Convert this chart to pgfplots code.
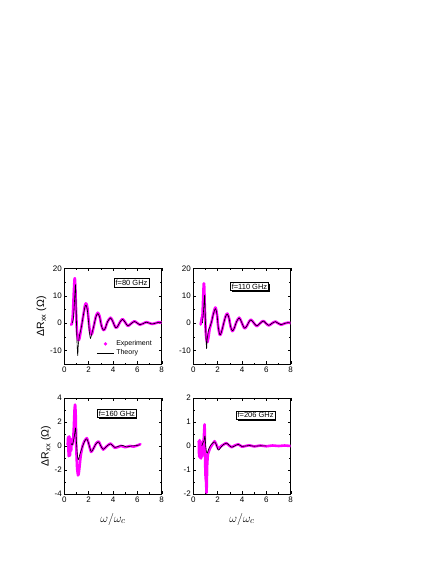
\documentclass[border=0pt]{standalone}
\usepackage{fontspec}
\setmainfont{Liberation Sans}
\usepackage{pgfplots}
\pgfplotsset{compat=1.18}
\usetikzlibrary{shadows}

\definecolor{expmag}{HTML}{FF00FF}

\tikzset{
  flabel/.style={draw=black, fill=white, line width=0.4pt, inner sep=1.3pt,
    font=\fontsize{7.5}{8}\selectfont,
    drop shadow={shadow xshift=1.2pt, shadow yshift=-1.2pt, fill=black, opacity=1}},
}
\pgfplotsset{
  panel/.style={
    scale only axis, width=97.4pt, height=96pt,
    xmin=0, xmax=8, xtick={0,2,4,6,8},
    minor x tick num=1, minor y tick num=1,
    tick align=inside, major tick length=3pt, minor tick length=1.6pt,
    axis line style={line width=0.5pt}, every tick/.style={black, line width=0.4pt},
    tick label style={font=\fontsize{8}{9}\selectfont},
    /pgf/number format/assume math mode=true,
    xticklabel style={yshift=1pt}, yticklabel style={xshift=1pt},
    clip=true,
  },
  expt/.style={expmag, line width=2.6pt, line join=round, line cap=round, smooth, tension=0.5, forget plot},
  theo/.style={black, line width=0.6pt, line join=round, smooth, tension=0.5, forget plot},
  ylab/.style={ylabel={ΔR\textsubscript{xx} (Ω)}, ylabel style={font=\fontsize{10.5}{11}\selectfont, yshift=-3pt}},
  xlab/.style={xlabel={$\omega/\omega_c$}, xlabel style={font=\fontsize{13}{14}\selectfont, yshift=-4pt}},
}

\begin{document}
\begin{tikzpicture}
\useasboundingbox (0,0) rectangle (436pt,564pt);

% f = 80 GHz
\begin{axis}[panel, ylab, at={(64.3pt,199.7pt)}, anchor=south west,
  ymin=-15, ymax=20, ytick={-10,0,10,20},
  legend style={draw=none, fill=none, at={(0.33,0.27)}, anchor=north west,
    font=\fontsize{7}{7.5}\selectfont, inner sep=0pt, row sep=-1.5pt},
  legend cell align=left]
\addplot[expt] coordinates {(0.55,-0.6)(0.62,-0.3)(0.7,3)(0.78,11)(0.85,16.3)(0.9,14)(0.97,4)(1.05,-3.5)(1.15,-6.2)(1.25,-5.5)(1.4,-1.5)(1.55,2.5)(1.7,6.5)(1.8,7.2)(1.9,5.5)(2.0,1)(2.1,-3)(2.2,-4.2)(2.3,-3.5)(2.45,-0.5)(2.6,2.5)(2.75,3.8)(2.9,2.5)(3.05,-0.8)(3.2,-2.5)(3.35,-2)(3.55,0.5)(3.8,2)(4.0,0.5)(4.2,-1.6)(4.35,-1.5)(4.55,0.2)(4.78,1.5)(5.0,0.3)(5.22,-1)(5.45,-0.3)(5.75,0.7)(6.0,0)(6.2,-0.6)(6.45,-0.2)(6.75,0.4)(7.0,0)(7.2,-0.3)(7.5,0)(7.75,0.35)(7.9,0.2)(8.0,0.3)};
\addplot[theo] coordinates {(0.65,0)(0.75,2)(0.85,9)(0.92,14)(0.97,6)(1.03,-5)(1.1,-11.8)(1.15,-8)(1.25,-4.5)(1.4,-1.5)(1.55,2.5)(1.7,6)(1.8,6.5)(1.9,4.5)(2.0,0)(2.08,-4)(2.15,-5.6)(2.25,-4)(2.45,-0.5)(2.6,2.3)(2.75,3.5)(2.9,2.2)(3.05,-1)(3.2,-2.5)(3.35,-2)(3.55,0.5)(3.8,1.9)(4.0,0.4)(4.2,-1.6)(4.35,-1.4)(4.55,0.2)(4.78,1.4)(5.0,0.3)(5.22,-1)(5.45,-0.3)(5.75,0.6)(6.0,0)(6.2,-0.6)(6.45,-0.2)(6.75,0.35)(7.0,0)(7.2,-0.3)(7.5,0)(7.75,0.3)(8.0,0.2)};
\addlegendimage{only marks, mark=*, mark size=1.5pt, expmag}
\addlegendentry{Experiment}
\addlegendimage{black, line width=0.6pt}
\addlegendentry{Theory}
\node[flabel] at (rel axis cs:0.69,0.85) {f=80 GHz};
\end{axis}

% f = 110 GHz
\begin{axis}[panel, at={(193.3pt,199.7pt)}, anchor=south west,
  ymin=-15, ymax=20, ytick={-10,0,10,20}]
\addplot[expt] coordinates {(0.6,-0.5)(0.65,0.5)(0.7,2)(0.75,2.5)(0.8,8)(0.86,14.5)(0.9,13)(0.95,5)(1.02,-3)(1.1,-6.5)(1.17,-6.8)(1.25,-5)(1.35,-2)(1.5,0.5)(1.65,3.5)(1.82,5.7)(1.95,3)(2.05,-1.5)(2.18,-4.3)(2.3,-3.5)(2.5,0)(2.65,2.5)(2.8,3.5)(2.95,1.5)(3.05,-1)(3.2,-2.9)(3.35,-2)(3.55,0.5)(3.77,2)(3.95,0.5)(4.2,-1.9)(4.4,-1)(4.55,0.3)(4.73,1.3)(4.95,0.2)(5.2,-1.1)(5.45,-0.2)(5.74,0.85)(5.95,0)(6.2,-0.85)(6.45,-0.1)(6.75,0.6)(6.95,0)(7.2,-0.6)(7.5,-0.1)(7.8,0.2)(8.0,0)};
\addplot[theo] coordinates {(0.75,0)(0.85,5)(0.93,10.2)(0.98,3)(1.04,-5)(1.09,-9.3)(1.14,-6)(1.25,-2.5)(1.35,-1.5)(1.5,0.5)(1.65,3.3)(1.82,5.3)(1.95,3)(2.05,-1.5)(2.18,-4.2)(2.3,-3.4)(2.5,0)(2.65,2.4)(2.8,3.3)(2.95,1.5)(3.05,-1)(3.2,-2.8)(3.35,-2)(3.55,0.5)(3.77,1.9)(3.95,0.5)(4.2,-1.8)(4.4,-1)(4.55,0.3)(4.73,1.2)(4.95,0.2)(5.2,-1)(5.45,-0.2)(5.74,0.8)(5.95,0)(6.2,-0.8)(6.45,-0.1)(6.75,0.55)(6.95,0)(7.2,-0.55)(7.5,-0.1)(7.8,0.2)(8.0,0)};
\node[flabel] at (rel axis cs:0.577,0.81) {f=110 GHz};
\end{axis}

% f = 160 GHz
\begin{axis}[panel, ylab, xlab, at={(64.3pt,70pt)}, anchor=south west,
  ymin=-4, ymax=4, ytick={-4,-2,0,2,4}]
\addplot[expt, tension=0.3] coordinates {(0.28,0.1)(0.32,0.75)(0.36,-0.85)(0.41,0.8)(0.46,-0.8)(0.51,0.6)(0.56,-0.4)(0.61,0.5)(0.66,0.1)(0.72,0.4)(0.78,1.5)(0.84,3.0)(0.89,3.45)(0.94,2.5)(0.98,0)(1.05,-1.8)(1.13,-2.45)(1.2,-2.2)(1.35,-0.8)(1.5,0)(1.65,0.4)(1.85,0.66)(2.0,0.2)(2.2,-0.5)(2.4,-0.2)(2.6,0.2)(2.82,0.38)(3.0,0)(3.2,-0.3)(3.45,-0.05)(3.8,0.2)(4.15,-0.15)(4.5,-0.05)(4.65,0.02)(5.0,-0.1)(5.4,0)(5.7,-0.05)(6.0,0.05)(6.25,0.15)};
\addplot[theo] coordinates {(0.55,0.2)(0.65,0.1)(0.75,0.4)(0.85,1.0)(0.93,1.5)(1.0,0.3)(1.08,-0.8)(1.15,-1.15)(1.25,-0.8)(1.4,-0.3)(1.55,0.1)(1.7,0.45)(1.85,0.6)(2.0,0.2)(2.2,-0.45)(2.35,-0.3)(2.55,0.1)(2.8,0.35)(3.0,0)(3.2,-0.28)(3.45,-0.05)(3.8,0.18)(4.15,-0.12)(4.5,0)(4.8,0.05)(5.1,-0.08)(5.5,0)(5.9,0.03)(6.2,0.1)};
\node[flabel] at (rel axis cs:0.54,0.84) {f=160 GHz};
\end{axis}

% f = 206 GHz
\begin{axis}[panel, xlab, at={(193.3pt,70pt)}, anchor=south west,
  ymin=-2, ymax=2, ytick={-2,-1,0,1,2}]
\addplot[expt, tension=0.2] coordinates {(0.45,0.2)(0.48,-0.45)(0.52,0.25)(0.56,-0.5)(0.6,0.15)(0.64,-0.52)(0.68,0.1)(0.72,-0.45)(0.76,0.2)(0.8,-0.3)(0.86,0.3)(0.93,0.9)(0.97,-0.6)(1.01,-1.3)(1.05,-1.5)(1.09,-1.95)(1.14,-0.8)(1.2,-0.35)(1.37,-0.1)(1.55,0.05)(1.75,0.2)(1.9,0.05)(2.05,-0.12)(2.3,0)(2.7,0.12)(2.95,0.02)(3.15,-0.05)(3.4,0.02)(3.7,0.07)(4.0,-0.03)(4.3,0.0)(4.6,0.03)(5.0,-0.02)(5.5,0.02)(6.0,-0.01)(6.5,0.02)(7.0,0)(7.5,0.02)(8.0,0)};
\addplot[theo] coordinates {(0.7,0)(0.8,0.15)(0.88,0.2)(0.96,0.42)(1.02,0)(1.08,-0.25)(1.15,-0.3)(1.25,-0.15)(1.42,0.03)(1.7,0.17)(1.85,0.1)(2.05,-0.17)(2.2,-0.1)(2.45,0.05)(2.75,0.12)(2.95,0.02)(3.15,-0.05)(3.4,0)(3.7,0.07)(4.0,-0.02)(4.3,0)(4.6,0.02)(5.0,-0.01)(5.5,0.01)(6.0,0)};
\node[flabel] at (rel axis cs:0.64,0.82) {f=206 GHz};
\end{axis}
\end{tikzpicture}
\end{document}
